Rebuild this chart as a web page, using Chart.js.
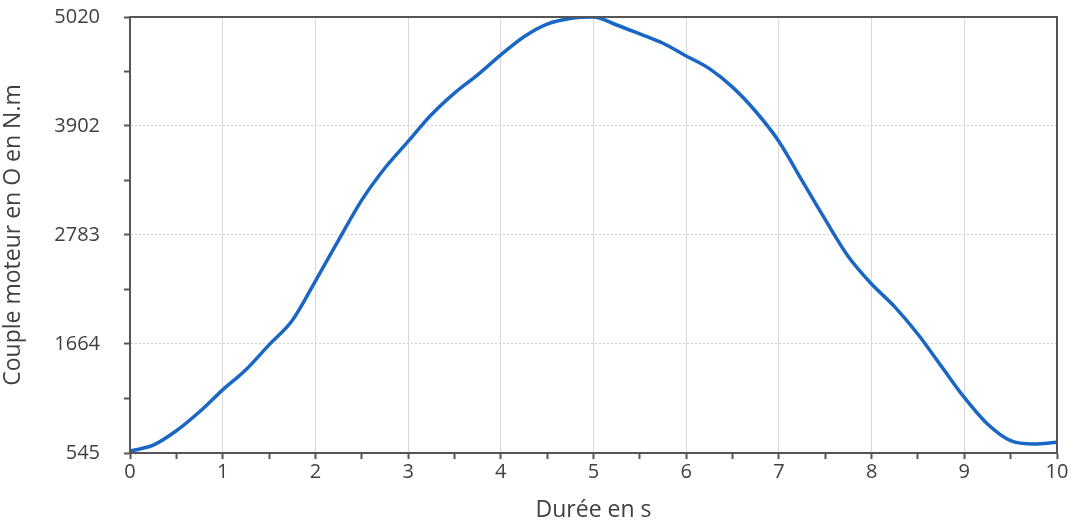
<!DOCTYPE html>
<html>
<head>
<meta charset="utf-8">
<script src="https://cdn.jsdelivr.net/npm/chart.js@4/dist/chart.umd.min.js"></script>
<style>
  html, body { margin: 0; padding: 0; background: #fff; overflow: hidden; }
</style>
</head>
<body>
<canvas id="torqueChart" width="1086" height="524"></canvas>
<script>
// temps en s
const durees = [0, 0.25, 0.5, 0.75, 1, 1.25, 1.5, 1.75, 2, 2.25, 2.5, 2.75, 3, 3.25, 3.5, 3.75,
    4, 4.25, 4.5, 4.75, 5, 5.25, 5.5, 5.75, 6, 6.25, 6.5, 6.75, 7, 7.25, 7.5, 7.75,
    8, 8.25, 8.5, 8.75, 9, 9.25, 9.5, 9.75, 10];
// couple moteur en N.m
const couples = [565, 625, 773, 968, 1193, 1400, 1655, 1905, 2310, 2730, 3140, 3470, 3743, 4016, 4239, 4426,
    4631, 4818, 4948, 5005, 5020, 4938, 4846, 4751, 4620, 4490, 4300, 4050, 3743, 3340, 2940, 2560,
    2280, 2045, 1764, 1439, 1115, 842, 671, 637, 655];
const yTicks = [545, 1664, 2783, 3902, 5020];
const xTicks = [0, 1, 2, 3, 4, 5, 6, 7, 8, 9, 10];

const points = durees.map((d, i) => ({ x: d, y: couples[i] }));
const txt = '#404040';
const fontTicks = { family: 'Open Sans', size: 20 };
const fontTitle = { family: 'Open Sans', size: 23 };

// cadre autour de la zone de tracé
const cadre = {
    id: 'cadre',
    afterDraw(chart) {
        const a = chart.chartArea, ctx = chart.ctx;
        ctx.save();
        ctx.strokeStyle = '#555';
        ctx.lineWidth = 2;
        ctx.strokeRect(a.left, a.top, a.right - a.left, a.bottom - a.top);
        ctx.restore();
    }
};

new Chart(document.getElementById('torqueChart'), {
    type: 'line',
    data: {
        datasets: [{
            data: points,
            borderColor: '#1a66c4',
            borderWidth: 3.5,
            pointRadius: 0,
            cubicInterpolationMode: 'monotone',
            fill: false
        }]
    },
    options: {
        responsive: false,
        animation: false,
        devicePixelRatio: 1,
        layout: { padding: { top: 17, right: 29, left: 0, bottom: 0 } },
        plugins: { legend: { display: false }, tooltip: { enabled: false } },
        scales: {
            x: {
                type: 'linear',
                min: 0,
                max: 10,
                afterBuildTicks: s => {
                    const t = [];
                    xTicks.forEach((v, i) => {
                        t.push({ value: v, major: true });
                        if (i < xTicks.length - 1) t.push({ value: v + 0.5 });
                    });
                    s.ticks = t;
                },
                afterFit: s => { s.height = 71; },
                ticks: {
                    color: txt, font: fontTicks, padding: 1, maxRotation: 0, autoSkip: false,
                    callback: v => Number.isInteger(v) ? String(v) : ''
                },
                grid: {
                    color: c => (c.tick && Number.isInteger(c.tick.value)) ? '#d9d9d9' : 'rgba(0,0,0,0)',
                    lineWidth: 1,
                    tickLength: 6,
                    tickColor: '#555',
                    tickWidth: 2
                },
                border: { color: '#555', width: 2 },
                title: { display: true, text: 'Durée en s', color: txt, font: fontTitle, padding: { top: 4, bottom: 0 } }
            },
            y: {
                type: 'linear',
                min: 545,
                max: 5020,
                afterBuildTicks: s => {
                    const t = [];
                    yTicks.forEach((v, i) => {
                        t.push({ value: v, major: true });
                        if (i < yTicks.length - 1) t.push({ value: (v + yTicks[i + 1]) / 2 });
                    });
                    s.ticks = t;
                },
                afterFit: s => { s.width = 130; s.paddingTop = 0; s.paddingBottom = 0; },
                ticks: {
                    color: txt, font: fontTicks, padding: 24, autoSkip: false,
                    callback: v => yTicks.includes(v) ? String(v) : ''
                },
                grid: {
                    color: c => (c.tick && yTicks.includes(c.tick.value)) ? '#d0d0d0' : 'rgba(0,0,0,0)',
                    lineWidth: 1,
                    tickLength: 6,
                    tickColor: '#555',
                    tickWidth: 2
                },
                border: { color: '#555', width: 2, dash: [2, 2] },
                title: { display: true, text: 'Couple moteur en O en N.m', color: txt, font: fontTitle, padding: { top: 0, bottom: 0 } }
            }
        }
    },
    plugins: [cadre]
});
</script>
</body>
</html>
